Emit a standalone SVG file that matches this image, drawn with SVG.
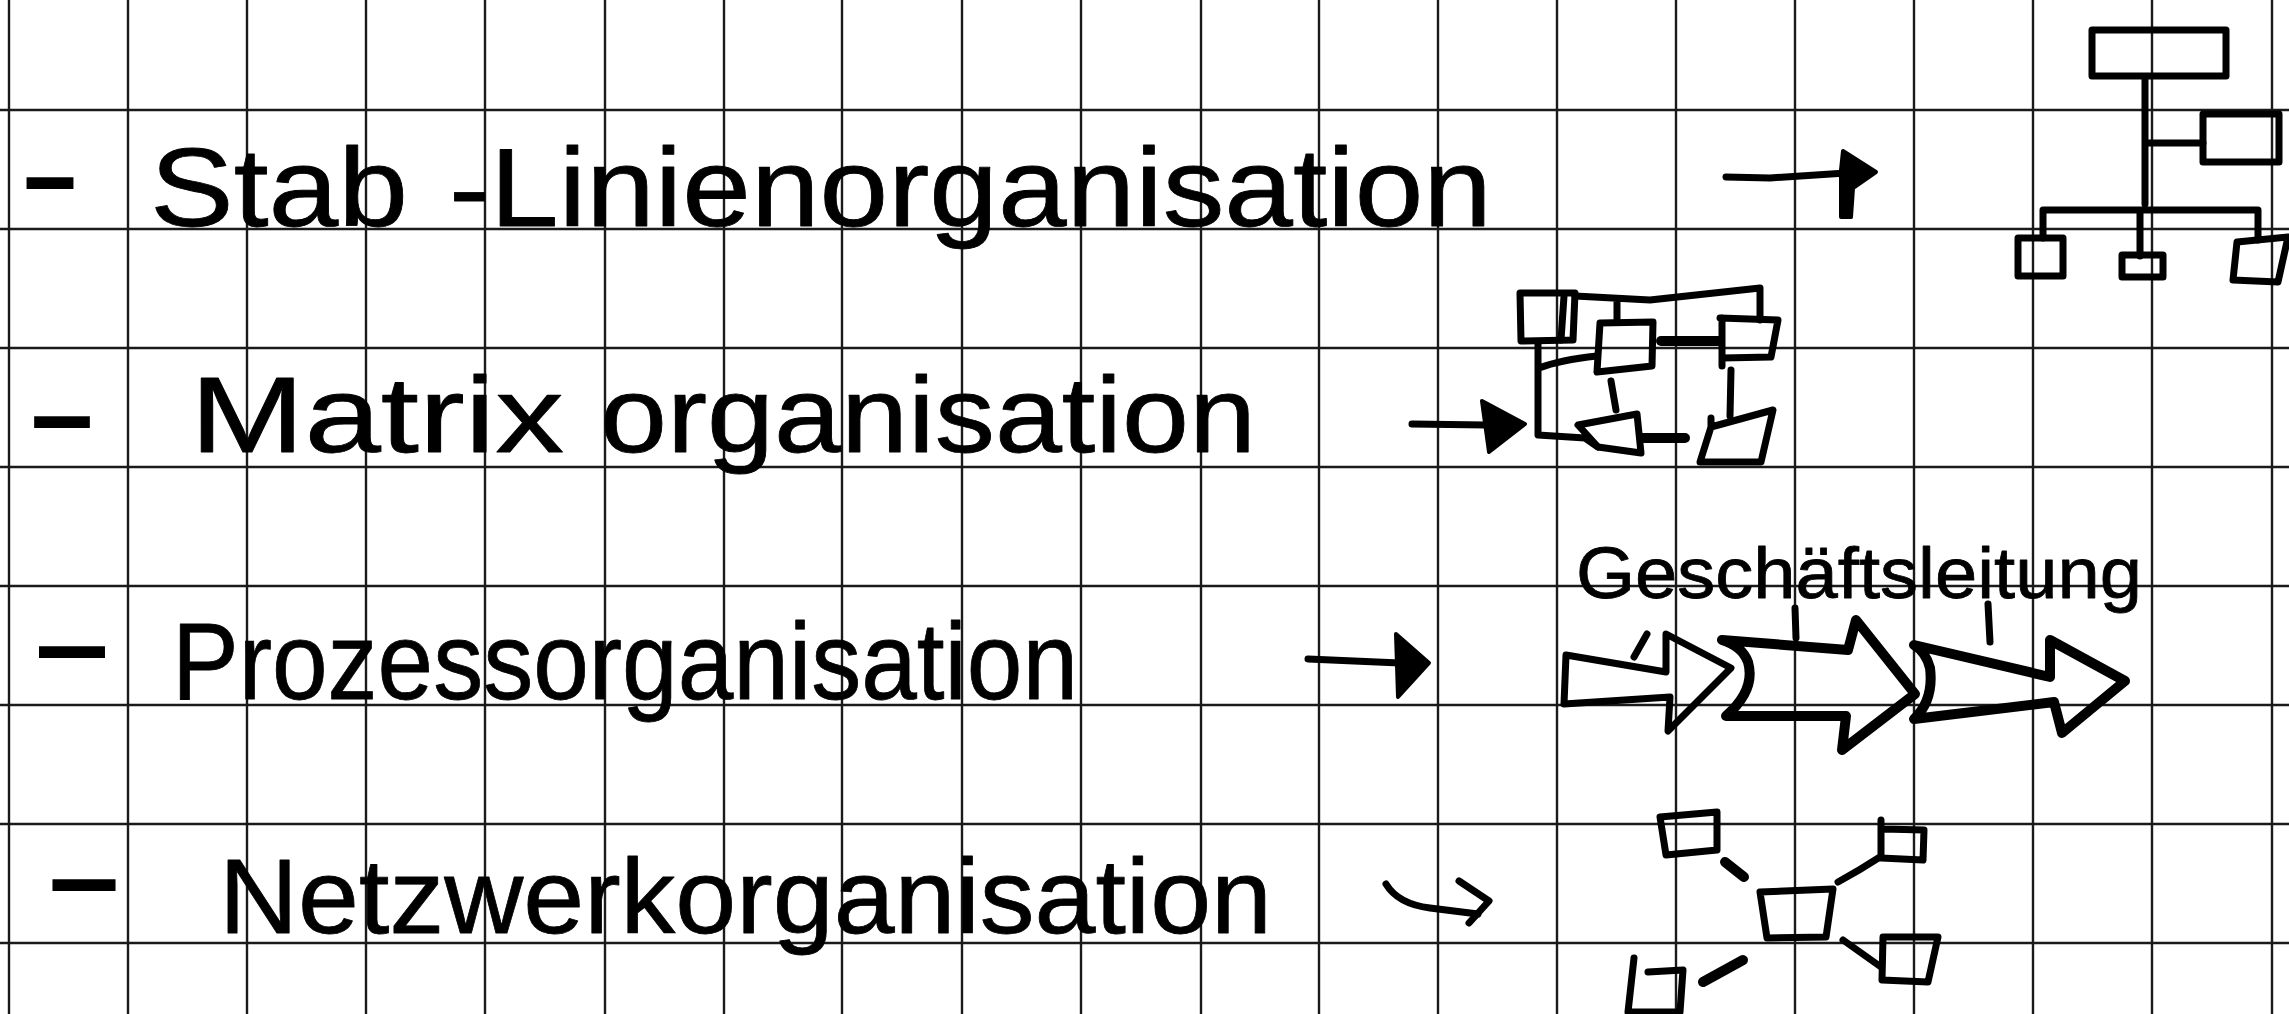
<svg xmlns="http://www.w3.org/2000/svg" width="2289" height="1014" viewBox="0 0 2289 1014">
<defs>
<style>
.grid line{stroke:#1a1a1a;stroke-width:2.4}
.hw{font-family:"Liberation Sans","DejaVu Sans",sans-serif;fill:#000;stroke:#000;stroke-width:0.8;stroke-linejoin:round}
.dash{font-family:"Liberation Sans","DejaVu Sans",sans-serif;font-size:150px;fill:#000}
.ink{fill:none;stroke:#000;stroke-width:7;stroke-linejoin:round;stroke-linecap:round}
.thick{fill:none;stroke:#000;stroke-width:10;stroke-linejoin:round;stroke-linecap:round}
.head{fill:#000;stroke:#000;stroke-width:4;stroke-linejoin:round}
</style>
</defs>
<rect width="2289" height="1014" fill="#fff"/>
<g class="grid" id="grid">
<line x1="9" y1="0" x2="9" y2="1014"/><line x1="128" y1="0" x2="128" y2="1014"/><line x1="247" y1="0" x2="247" y2="1014"/><line x1="366" y1="0" x2="366" y2="1014"/><line x1="485" y1="0" x2="485" y2="1014"/><line x1="605" y1="0" x2="605" y2="1014"/><line x1="724" y1="0" x2="724" y2="1014"/><line x1="842" y1="0" x2="842" y2="1014"/><line x1="962" y1="0" x2="962" y2="1014"/><line x1="1081" y1="0" x2="1081" y2="1014"/><line x1="1201" y1="0" x2="1201" y2="1014"/><line x1="1319" y1="0" x2="1319" y2="1014"/><line x1="1438" y1="0" x2="1438" y2="1014"/><line x1="1557" y1="0" x2="1557" y2="1014"/><line x1="1676" y1="0" x2="1676" y2="1014"/><line x1="1795" y1="0" x2="1795" y2="1014"/><line x1="1914" y1="0" x2="1914" y2="1014"/><line x1="2033" y1="0" x2="2033" y2="1014"/><line x1="2152" y1="0" x2="2152" y2="1014"/><line x1="2272" y1="0" x2="2272" y2="1014"/>
<line x1="0" y1="110" x2="2289" y2="110"/><line x1="0" y1="229" x2="2289" y2="229"/><line x1="0" y1="348" x2="2289" y2="348"/><line x1="0" y1="467" x2="2289" y2="467"/><line x1="0" y1="586" x2="2289" y2="586"/><line x1="0" y1="705" x2="2289" y2="705"/><line x1="0" y1="824" x2="2289" y2="824"/><line x1="0" y1="943" x2="2289" y2="943"/>
</g>

<g id="item-stab-linien">
<text class="dash" x="18" y="223" textLength="64" lengthAdjust="spacingAndGlyphs">-</text>
<text class="hw" x="150" y="226" font-size="112" textLength="258" lengthAdjust="spacingAndGlyphs">Stab</text>
<text class="hw" x="449" y="226" font-size="112" textLength="1043" lengthAdjust="spacingAndGlyphs">-Linienorganisation</text>
</g>
<g id="item-matrix">
<text class="dash" x="24" y="462" textLength="76" lengthAdjust="spacingAndGlyphs">-</text>
<text class="hw" x="190" y="452" font-size="108" textLength="374" lengthAdjust="spacingAndGlyphs">Matrix</text>
<text class="hw" x="600" y="452" font-size="108" textLength="656" lengthAdjust="spacingAndGlyphs">organisation</text>
</g>
<g id="item-prozess">
<text class="dash" x="27" y="692" textLength="90" lengthAdjust="spacingAndGlyphs">-</text>
<text class="hw" x="172" y="699" font-size="110" textLength="906" lengthAdjust="spacingAndGlyphs">Prozessorganisation</text>
</g>
<g id="item-netzwerk">
<text class="dash" x="41" y="925" textLength="86" lengthAdjust="spacingAndGlyphs">-</text>
<text class="hw" x="219" y="933" font-size="106" textLength="1053" lengthAdjust="spacingAndGlyphs">Netzwerkorganisation</text>
</g>

<g id="chart-stab-linie">
<rect class="ink" x="2092" y="30" width="134" height="46"/>
<path class="ink" d="M2145,77 L2145,204 M2145,143 L2203,143"/>
<rect class="ink" x="2203" y="114" width="76" height="48"/>
<path class="ink" d="M2043,238 L2043,210 L2258,210 L2258,240 M2140,210 L2140,256"/>
<rect class="ink" x="2018" y="238" width="45" height="38"/>
<rect class="ink" x="2122" y="255" width="41" height="22"/>
<path class="ink" d="M2237,242 L2288,237 L2278,282 L2233,280 Z"/>
</g>

<g id="chart-matrix">
<path class="ink" d="M1520,293 L1575,293 L1573,340 L1521,341 Z"/>
<path class="ink" stroke-width="4" d="M1564,296 L1561,340"/>
<path class="ink" d="M1575,296 L1650,300 L1760,288 L1760,320 M1617,300 L1617,322"/>
<path class="ink" d="M1600,323 L1653,322 L1652,366 L1597,372 Z"/>
<path class="thick" d="M1661,341 L1720,341"/>
<path class="ink" d="M1720,318 L1778,320 L1771,357 L1722,358 M1722,318 L1722,366"/>
<path class="ink" d="M1538,342 L1538,435 L1585,438 L1598,447 M1539,368 Q1560,360 1597,356"/>
<path class="ink" d="M1611,381 L1616,410 M1731,370 L1730,416"/>
<path class="ink" d="M1578,425 L1637,414 L1641,453 L1598,447 Z"/>
<path class="thick" d="M1642,438 L1685,438"/>
<path class="ink" d="M1711,427 L1773,410 L1761,462 L1700,462 Z M1711,418 L1711,427"/>
</g>

<g id="chart-prozess">
<text class="hw" x="1576" y="598" font-size="72" stroke-width="1" textLength="566" lengthAdjust="spacingAndGlyphs">Geschäftsleitung</text>
<path class="ink" stroke-width="5" d="M1647,634 L1634,657 M1795,608 L1796,638 M1988,604 L1990,642"/>
<path class="ink" stroke-width="8" d="M1566,655 L1666,672 L1666,634 L1731,668 L1668,731 L1670,697 L1564,704 Z"/>
<path class="thick" d="M1722,640 L1848,650 L1856,620 L1915,694 L1842,750 L1846,716 L1726,716 Q1756,690 1748,662 Q1742,646 1722,640 Z"/>
<path class="thick" d="M1914,645 L2050,677 L2050,640 L2125,681 L2062,733 L2054,702 L1914,719 Q1934,700 1930,668 Q1926,652 1914,645 Z"/>
</g>

<g id="chart-netzwerk">
<path class="ink" d="M1660,817 L1717,812 L1717,850 L1666,855 Z"/>
<path class="ink" d="M1881,820 L1881,858 L1923,860 L1924,830 L1883,829"/>
<path class="ink" d="M1760,892 L1833,889 L1826,937 L1767,938 Z"/>
<path class="ink" d="M1883,937 L1938,937 L1928,982 L1882,980 Z"/>
<path class="ink" d="M1634,958 L1628,1012 L1680,1012 L1683,970 L1648,972"/>
<path class="thick" d="M1725,862 L1744,877 M1703,982 L1743,960"/>
<path class="ink" stroke-width="6" d="M1880,857 Q1860,870 1838,882 M1843,940 L1881,967"/>
</g>

<g id="connectors">
<path class="ink" stroke-width="12" d="M1726,177 L1770,178 L1846,173"/>
<path class="head" d="M1843,151 L1876,172 L1853,188 L1851,217 L1841,217 L1841,170 Z"/>
<path class="ink" stroke-width="12" d="M1412,424 L1486,425"/>
<path class="head" d="M1482,401 L1525,424 L1489,452 Z"/>
<path class="ink" stroke-width="12" d="M1308,659 L1400,663"/>
<path class="head" d="M1396,634 L1429,663 L1398,697 Z"/>
<path class="ink" stroke-width="9" d="M1386,884 Q1398,904 1430,908 L1478,914"/>
<path class="ink" stroke-width="9" d="M1459,881 L1489,901 L1469,923"/>
</g>
</svg>
